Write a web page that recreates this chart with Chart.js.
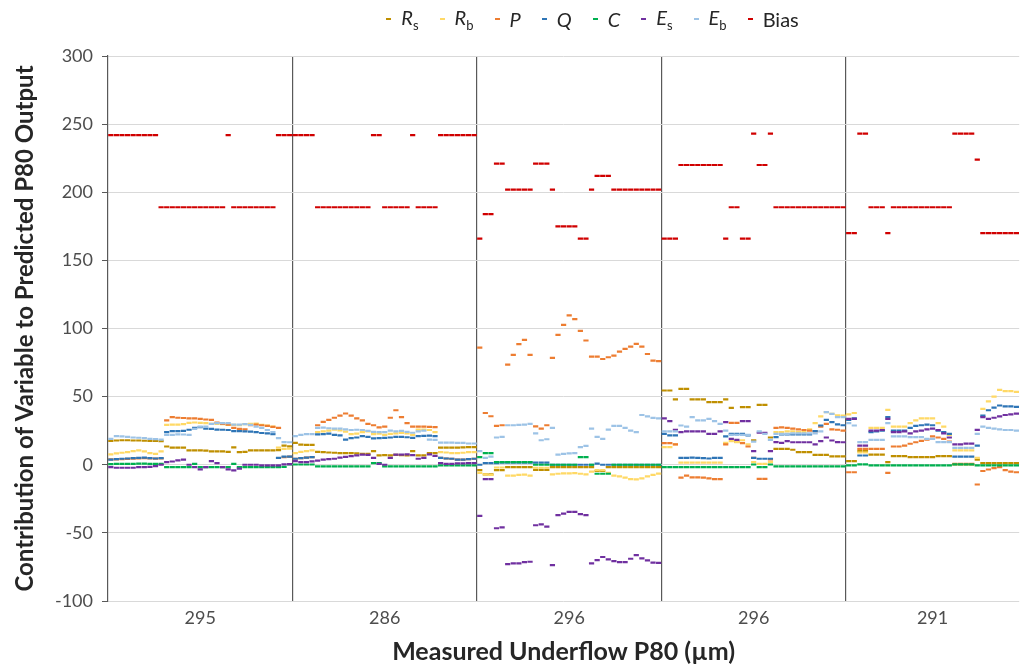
<!DOCTYPE html>
<html>
<head>
<meta charset="utf-8">
<script src="https://cdn.jsdelivr.net/npm/chart.js@4.4.1/dist/chart.umd.min.js"></script>
<style>
  body { margin: 0; background: #fff; }
  #wrap { position: relative; width: 1024px; height: 669px; }
  #legend {
    position: absolute; top: 5px; left: 0; width: 1024px;
    padding-left: 161px; box-sizing: border-box;
    display: flex; justify-content: center; gap: 21px;
    font-family: Lato, sans-serif; font-size: 20px; color: #262626;
  }
  #legend .item { display: flex; align-items: center; white-space: nowrap; }
  #legend .mark { display: inline-block; width: 5px; height: 2px; margin-right: 10px; }
  #legend sub { font-size: 13px; font-style: normal; }
</style>
</head>
<body>
<div id="wrap">
  <canvas id="chart" width="1024" height="669"></canvas>
  <div id="legend"></div>
</div>
<script>
// ---- Data ----
const groupLabels = ['295', '286', '296', '296', '291'];
const groupSizes = [33, 33, 33, 33, 31];

const rs = [
  17.5,17.8,18,18,17.8,17.8,17.6,17.5,17.5,17.3, 13.4,12.6,12.5,12.5,10.6,10.5,10.5,10.4,9.8,9.8, 9.8,9.5,12.8,9.3,9.4,10.5,10.5,10.6,10.6,10.6, 10.8,14,13.5,
  16,14.8,14.6,14.6,9.5,9.3,9,8.8,8.6,8.6, 8.6,8.4,8,8,10,6.9,7,6.9,7.2,7, 6.9,10,6.9,6.9,8.6,8.6,12.5,12.5,12.6,12.5, 12.7,13,13,
  -4,-7,-7,-4,-4,-1.7,-1.7,-1.7,-1.7,-1.7, -3.7,-3.7,-3.7,-1.7,-1.7,-1.7,-1.7,-1.7,-1.7,-1.7, -1.7,-4.6,-4.6,-1.7,-1.7,-1.7,-1.7,-1.7,-1.7,-1.7, -1.7,-1.7,-1.7,
  54.5,54.5,48,55.7,55.7,48,48,48,46,46, 46,48,41.8,17,42.3,42.3,18,44,44,20, 11.7,11.7,11.7,11,9.3,9.3,9.3,7.3,7.3,7.3, 6.1,6.1,6.1,
  2.6,2.6,10,10,7.5,7.5,7.5,2,6.3,6.3, 6.3,5.6,5.6,5.6,5.6,5.6,6.3,6.3,6.3,0.2, 0.2,0.2,0.2,3.8,1.2,1.2,1.2,1.2,1.2,1.2, 1.2
];
const rb = [
  7.6,8.3,8.8,9.3,10,10.5,9.8,8.6,8,9.8, 29.3,29.5,29.5,29.8,30.8,31,30.8,30.5,30,30, 29.8,29.3,29.3,29,29.8,30,30.2,29.3,28.8,28, 12.5,11.7,11.8,
  8.6,9.5,10,10.5,24,24.5,25,25.8,25.3,24.3, 22.5,22.8,24,24.5,22.5,22.8,22,22.7,23,23.3, 23,22,25.8,25.8,25.5,24,9.3,9,8.6,8.6, 8.8,9.2,9.3,
  -6,-7,-7.5,-2,-2,-8,-8,-7.5,-7.2,-8, -2.2,-2.2,-2.2,-7,-6.6,-6.4,-6.4,-6.2,-6.6,-7, -5,-4,-4,-6,-8,-8.5,-9.5,-10.5,-10.8,-10, -8.5,-7.5,-6.5,
  13,13,15,1.5,1.5,1.5,1.5,1.5,1.5,1.5, 1.5,16,17.4,16.6,18,15,2,0.7,0.7,2, 24,24,24.5,24.5,24,24,26,30.6,35.5,38.6, 37.4,36.2,36,
  37,38,9,9,27,27,27,40.3,28,28, 28,30.5,32.5,34,34,34,30.5,28,22,10.5, 10.5,10.5,10.5,5,41,46.5,50,55,54,54, 53.5
];
const p = [
  4,4,4.2,4.3,4.5,4.6,4.8,4.6,4.5,4.6, 32.5,35,34.5,34.3,34,34,33.6,33.2,33,31, 30,29.5,27,26.3,26,29,29.5,29,28.5,27.8, 27,5.5,6,
  4.4,4.8,5.2,5.6,29,31.5,33,34.5,36,37.6, 36,34,32.5,30,29,27.5,28,34.5,40,35, 30.5,28,28,28,27.8,27.6,5,4.6,4.4,3.7, 3.8,4.2,4.4,
  86,38,35.6,28.5,29,73.5,80.6,88.5,91.6,80.6, 28.2,26.5,29,78.4,95.3,102.7,109.6,106.9,98.3,91.2, 79.4,79.4,77.6,78.9,80.1,83,85,86.7,88.7,86.7, 81.3,76.4,76,
  15.9,15.9,15,-9.5,-8,-9.3,-9.3,-9.5,-10,-10.5, -10.5,15,30.8,30.8,15.9,13.4,5,-10.3,-10.3,4, 27,27.5,27,26.5,26,25.5,25,24.5,28,30, 26,25.7,25,
  -5.5,-5.5,11.7,11.7,11.7,11.7,11.7,-6,13.4,13.4, 14,15.4,16.5,17.5,18.5,20.8,20,19,17,0.7, 0.7,0.7,0.7,-14.5,-4.6,-3.5,-2.5,-1.8,-4,-5, -5.5
];
const q = [
  3.8,4.2,4.4,4.6,4.8,5,5.2,4.8,4.6,4.8, 24,24.7,24.7,24.9,25.7,27,27.6,26.5,26.4,25.8, 25.7,25.5,24.7,24.7,24.5,24.3,24,23.3,23,22.5, 5,6,6,
  4.4,4.8,5.2,5.6,22.3,22.5,22.8,22,21.6,18.4, 19.5,20,21,20.5,19.4,19.5,19.7,20,20.4,20.4, 20.2,19.7,21,21.2,21.4,21,5,4.6,4.4,3.7, 3.8,4.2,4.4,
  0,1.2,1.2,1.2,1.5,1.5,1.5,1.5,1.5,1.5, 1.5,1.5,1.5,0,0,0,0,0,0,0, 0,0.8,0,0,0,0,0,0,0,0, 0,0,0,
  22.7,21.5,21.5,5,5,5.2,5,4.8,4.6,5, 5,20.8,22.7,22.7,22.7,21.5,5,4.4,4.4,4.4, 20.3,22.2,22.2,22.2,22.2,22.2,22.2,24.7,28.8,33, 31.3,29.6,29,
  33,34,6.8,6.8,24,24.5,25,35,25,25, 25,27,28.5,29,29.5,29,25,24,22.7,6, 6,6,6,14,36,40,42,43.5,42.8,42.8, 42.5
];
const c = [
  0.5,0.6,0.6,0.7,0.7,0.8,0.8,0.7,0.7,0.6, -1.7,-1.7,-1.7,-1.7,-1.7,0.7,-1.7,-1.7,-1.7,-1.7, -1.7,-1.7,0.7,-1.7,-1.7,-1.7,-1.7,-1.7,-1.7,-1.7, -1.7,-1.5,0.3,
  0.2,0.2,0.2,0.2,-1.2,-1.2,-1.2,-1.2,-1.2,-1.2, -1.2,-1.2,-1.2,-1.2,1.2,1.2,-1.2,-1.2,-1.2,-1.2, -1.2,-1.2,-1.2,-1.2,-1.2,-1.2,-0.5,-0.5,-0.5,-0.5, -0.5,-0.5,-0.5,
  5.6,8.6,8.6,2,2,2,2,2,2,2, 0,0,0,0,0,0,0,0,5.6,5.6, 0,-6.6,-6.6,-6.6,0,0,0,0,0,0, 0,0,0,
  -1.7,-1.7,-1.7,-1.7,-1.7,-1.7,-1.7,-1.7,-1.7,-1.7, -1.7,-1.7,-1.7,-1.7,-1.7,-1.7,0.2,-1.7,-1.7,0.2, -1.2,-1.2,-1.2,-1.2,-1.2,-1.2,-1.2,-1.2,-1.2,-1.2, -1.2,-1.2,-1.2,
  -0.5,-0.5,0.3,0.3,-0.5,-0.5,-0.5,-0.5,-0.5,-0.5, -0.5,-0.5,-0.5,-0.5,-0.5,-0.5,-0.5,-0.5,-0.5,0.3, 0.3,0.3,0.3,-0.5,-0.5,-0.5,-0.5,-0.5,-0.5,-0.5, -0.5
];
const es = [
  -1.7,-2.2,-2.2,-2.2,-2.2,-1.7,-1.7,-1.5,-1,0, 2,2.4,3.2,3.7,0,-1.7,-3.4,-1.7,2.7,1.2, -1.7,-3.4,-4.2,-2.9,0,0,0,-0.5,-0.5,-0.5, -0.5,0.3,0.5,
  2.7,2,2,2.5,3,3.7,4.2,4.4,5.2,5.8, 6.4,6.9,7.5,7.3,5,0.7,0,5,7.5,7.5, 7.6,7,4.4,5,7.6,6.5,1.2,0.7,0.7,1, 1,1.2,1.2,
  -37.5,-10.5,-10.5,-46.6,-46,-73,-72.4,-72.4,-71.4,-71.2, -44.4,-43.7,-45.4,-73.6,-37,-35.8,-34.6,-34.6,-36.3,-37, -72.4,-70,-67.7,-69.5,-70.7,-71.4,-71.4,-69,-66.3,-68.7, -70.2,-71.9,-72,
  34,32,25.7,24,24.5,24.5,24.5,24.5,22.7,22.7, 24.5,31.3,19,18.3,32,32,10,23.5,23.5,10, 16.6,16,17.4,16.5,16.5,16.5,16.5,15,17.4,20, 17.8,16.6,16.5,
  33.7,33.7,14,14,25,25,25.5,33.7,24,24, 24.5,23,24.5,25,26,26.5,25.5,23,20,15, 15,15.5,15.5,25.6,35,33.7,34.5,35.5,36.5,37, 37.5
];
const eb = [
  19,21,20.8,20.5,20,19.8,19.5,19,18.8,18.5, 22,22,22.3,22.2,22,26.4,28,28,30,30.5, 30.5,30.5,29.5,29.5,29.8,29.3,28,27,25.5,24, 19.5,16.6,16.5,
  21,22,22.5,22.5,27,27.2,26.8,26.5,26.5,26, 25.5,25.7,25.5,24.8,24.2,24,24,25,24.5,24.8, 24.2,23.5,24.5,25,18.5,18.2,16.3,16.2,16.2,16, 16,15.6,15.6,
  10,5,6,20,20.5,29,29,29.3,29.5,30, 23,18,18.7,27,7.5,8,8.3,8.6,13,13.8, 26.5,20.5,19,25.8,28.5,28.5,27,25,24,36.5, 35.5,34.4,34,
  24.5,24.5,24.5,28.8,28,35,32.5,32.5,33.7,32, 30,25,22,22,22,22,17,24.5,22.7,18.3, 22.7,22.7,22.7,23,23,23,23,23,24.5,38.6, 37.4,35,35,
  30.5,28.8,16.6,16.6,18.3,18.3,18.3,30.5,20.8,20.8, 20.8,20.3,20.3,20.3,19,19,16.6,16.6,16.6,12.4, 12.4,12.4,12.4,22.7,28,27,26.5,26,25.5,25.5, 25
];
const bias = [
  242,242,242,242,242,242,242,242,242, 189,189,189,189,189,189,189,189,189,189,189,189, 242, 189,189,189,189,189,189,189,189, 242,242,242,
  242,242,242,242, 189,189,189,189,189,189,189,189,189,189, 242,242, 189,189,189,189,189, 242, 189,189,189,189, 242,242,242,242,242,242,242,
  166, 184,184, 221,221, 202,202,202,202,202, 221,221,221, 202, 175,175,175,175, 166,166, 202, 212,212,212, 202,202,202,202,202,202,202,202,202,
  166,166,166, 220,220,220,220,220,220,220,220, 166, 189,189, 166,166, 243, 220,220, 243, 189,189,189,189,189,189,189,189,189,189,189,189,189,
  170,170, 243,243, 189,189,189, 170, 189,189,189,189,189,189,189,189,189,189,189, 243,243,243,243, 224, 170,170,170,170,170,170,170
];

const seriesLabels = ['<i>R</i><sub>s</sub>', '<i>R</i><sub>b</sub>', '<i>P</i>', '<i>Q</i>', '<i>C</i>',
  '<i>E</i><sub>s</sub>', '<i>E</i><sub>b</sub>', 'Bias'];
const seriesNames = ['Rs', 'Rb', 'P', 'Q', 'C', 'Es', 'Eb', 'Bias'];
const seriesValues = [rs, rb, p, q, c, es, eb, bias];
const seriesColors = ['#BF8F00', '#FFD966', '#ED7D31', '#2E75B6', '#00B050', '#7030A0', '#9DC3E6', '#D00000'];

// ---- Group boundaries and label positions on the index axis ----
const total = groupSizes.reduce((a, b) => a + b);
const boundaries = [];
const centers = [];
let start = 0;
groupSizes.forEach((n, g) => {
  centers.push(start + (n - 1) / 2);
  start += n;
  if (g < groupSizes.length - 1) boundaries.push(start - 0.5);
});

// ---- HTML legend ----
const legend = document.getElementById('legend');
seriesLabels.forEach((lab, k) => {
  const item = document.createElement('span');
  item.className = 'item';
  item.innerHTML = `<span class="mark" style="background:${seriesColors[k]}"></span><span>${lab}</span>`;
  legend.appendChild(item);
});

// ---- Chart ----
const datasets = seriesValues.map((vals, k) => ({
  label: seriesNames[k],
  data: vals.map((v, i) => ({ x: i, y: v })),
  pointStyle: 'line',
  pointRadius: 2.6,
  pointHoverRadius: 2.6,
  pointBorderWidth: 2.2,
  pointBorderColor: seriesColors[k],
  pointBackgroundColor: seriesColors[k],
  borderColor: seriesColors[k],
  backgroundColor: seriesColors[k],
  showLine: false,
  order: seriesValues.length - k   // later series sit on top
}));

new Chart(document.getElementById('chart'), {
  type: 'scatter',
  data: { datasets },
  options: {
    responsive: false,
    animation: false,
    devicePixelRatio: 1,
    layout: { padding: { left: 0, right: 2, top: 56, bottom: 0 } },
    plugins: { legend: { display: false }, tooltip: { enabled: false } },
    scales: {
      x: {
        type: 'linear',
        min: -0.5,
        max: total - 0.5,
        afterBuildTicks: (scale) => {
          scale.ticks = [...centers, ...boundaries].map(v => ({ value: v }));
        },
        afterFit: (scale) => { scale.height = 68; },
        ticks: {
          autoSkip: false,
          maxRotation: 0,
          padding: 6,
          color: '#4d4d4d',
          font: { family: 'Lato, sans-serif', size: 18 },
          callback: (v) => {
            const g = centers.indexOf(v);
            return g >= 0 ? groupLabels[g] : '';
          }
        },
        grid: {
          drawTicks: false,
          lineWidth: 1.2,
          color: (ctx) => (ctx.tick && boundaries.includes(ctx.tick.value)) ? '#595959' : 'rgba(0,0,0,0)'
        },
        border: { display: false },
        title: {
          display: true,
          text: 'Measured Underflow P80 (µm)',
          color: '#262626',
          font: { family: 'Lato, sans-serif', size: 25, weight: 'bold' },
          padding: { top: 0, bottom: 2 }
        }
      },
      y: {
        min: -100,
        max: 300,
        afterFit: (scale) => { scale.width = 108; },
        ticks: {
          stepSize: 50,
          padding: 9,
          color: '#4d4d4d',
          font: { family: 'Lato, sans-serif', size: 18 }
        },
        grid: { color: '#D9D9D9', tickColor: '#595959', tickLength: 6 },
        border: { color: '#595959', width: 1.2 },
        title: {
          display: true,
          text: 'Contribution of Variable to Predicted P80 Output',
          color: '#262626',
          font: { family: 'Lato, sans-serif', size: 24, weight: 'bold' },
          padding: { top: 11, bottom: 0 }
        }
      }
    }
  }
});
</script>
</body>
</html>
